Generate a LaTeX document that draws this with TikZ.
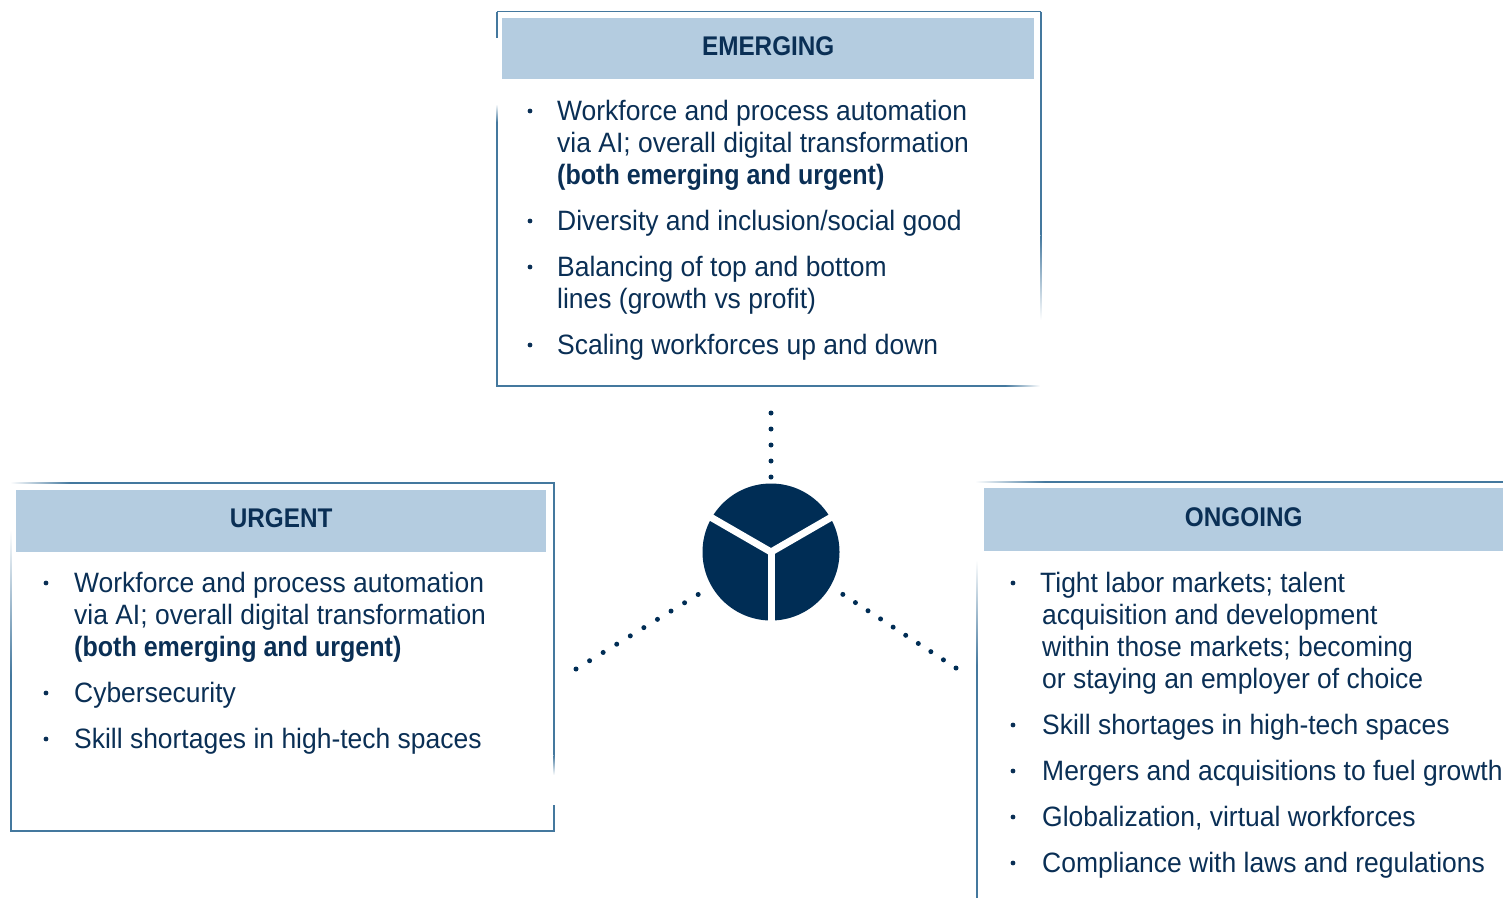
\documentclass[tikz,border=0pt]{standalone}
\usepackage{fontspec}
\setmainfont{Liberation Sans}[FakeStretch=0.945, BoldFeatures={FakeStretch=0.895}]
\newfontfamily\headfont{Liberation Sans}[FakeStretch=0.9]
\definecolor{navy}{HTML}{0A2F55}
\definecolor{hubnavy}{HTML}{002D55}
\definecolor{hdrfill}{HTML}{B4CCE0}
\definecolor{rule}{HTML}{44789E}
\tikzset{
  body/.style={anchor=base west, inner sep=0pt, text=navy, font=\fontsize{28}{32}\selectfont},
  head/.style={inner sep=0pt, text=navy, yshift=3pt, font=\headfont\bfseries\fontsize{27}{30}\selectfont},
  hdr/.style={fill=hdrfill, draw=none, inner sep=0pt, anchor=north west},
  frame/.style={draw=rule, line width=1.5pt},
  bul/.style={circle, fill=navy, inner sep=0pt, minimum size=4.8pt},
  dotline/.style={draw=hubnavy, line width=5pt, line cap=round},
  gap/.style={draw=white, line width=7pt, shorten >=-5pt},
}
\begin{document}
\begin{tikzpicture}[x=1pt, y=-1pt]
\useasboundingbox (0,0) rectangle (1503,898);

% ---------- EMERGING panel ----------
\draw[frame] (497,11.5) -- (1041,11.5);
\draw[frame] (497,11.5) -- (497,38);
\shade[top color=white, bottom color=rule] (496.25,104) rectangle (497.75,122);
\draw[frame] (497,122) -- (497,386) -- (1005,386);
\shade[left color=rule, right color=white] (1005,385.25) rectangle (1040,386.75);
\draw[frame] (1041,11.5) -- (1041,235);
\shade[top color=rule, bottom color=white] (1040.25,235) rectangle (1041.75,320);
\node[hdr, minimum width=532pt, minimum height=61pt] (ehdr) at (502,18) {};
\node[head] (etitle) at (ehdr.center) {EMERGING};

\node[bul] (eb1) at (530,111) {};
\node[body] (e1a) at (557,120) {Workforce and process automation};
\node[body] (e1b) at (557,152) {via AI; overall digital transformation};
\node[body] (e1c) at (557,184) {\bfseries (both emerging and urgent)};
\node[bul] (eb2) at (530,221) {};
\node[body] (e2a) at (557,230) {Diversity and inclusion/social good};
\node[bul] (eb3) at (530,267) {};
\node[body] (e3a) at (557,276) {Balancing of top and bottom};
\node[body] (e3b) at (557,308) {lines (growth vs profit)};
\node[bul] (eb4) at (530,345) {};
\node[body] (e4a) at (557,354) {Scaling workforces up and down};

% ---------- URGENT panel ----------
\shade[left color=white, right color=rule] (10,482.25) rectangle (70,483.75);
\draw[frame] (70,483) -- (554,483) -- (554,755);
\shade[top color=rule, bottom color=white] (553.25,755) rectangle (554.75,775);
\draw[frame] (554,805) -- (554,831) -- (11,831) -- (11,675);
\shade[top color=white, bottom color=rule] (10.25,530) rectangle (11.75,675);
\node[hdr, minimum width=530pt, minimum height=62pt] (uhdr) at (16,490) {};
\node[head] (utitle) at (uhdr.center) {URGENT};

\node[bul] (ub1) at (46,583) {};
\node[body] (u1a) at (74,592) {Workforce and process automation};
\node[body] (u1b) at (74,624) {via AI; overall digital transformation};
\node[body] (u1c) at (74,656) {\bfseries (both emerging and urgent)};
\node[bul] (ub2) at (46,693) {};
\node[body] (u2a) at (74,702) {Cybersecurity};
\node[bul] (ub3) at (46,739) {};
\node[body] (u3a) at (74,748) {Skill shortages in high-tech spaces};

% ---------- ONGOING panel ----------
\shade[left color=white, right color=rule] (975,481.25) rectangle (1045,482.75);
\draw[frame] (1045,482) -- (1503,482);
\shade[top color=white, bottom color=rule] (976.25,560) rectangle (977.75,665);
\draw[frame] (977,665) -- (977,898);
\node[hdr, minimum width=519pt, minimum height=63pt] (ohdr) at (984,488) {};
\node[head] (otitle) at (ohdr.center) {ONGOING};

\node[bul] (ob1) at (1013,583) {};
\node[body] (o1a) at (1040,592) {Tight labor markets; talent};
\node[body] (o1b) at (1042,624) {acquisition and development};
\node[body] (o1c) at (1042,656) {within those markets; becoming};
\node[body] (o1d) at (1042,688) {or staying an employer of choice};
\node[bul] (ob2) at (1013,725) {};
\node[body] (o2a) at (1042,734) {Skill shortages in high-tech spaces};
\node[bul] (ob3) at (1013,771) {};
\node[body] (o3a) at (1042,780) {Mergers and acquisitions to fuel growth};
\node[bul] (ob4) at (1013,817) {};
\node[body] (o4a) at (1042,826) {Globalization, virtual workforces};
\node[bul] (ob5) at (1013,863) {};
\node[body] (o5a) at (1042,872) {Compliance with laws and regulations};

% ---------- central hub with dotted spokes ----------
\coordinate (hubpos) at (771,552);
\coordinate (ptop) at (771,413);
\coordinate (pleft) at (576,669);
\coordinate (pright) at (956,668);
\node[circle, minimum size=137pt, inner sep=0pt] (hubshape) at (hubpos) {};
\draw[dotline, dash pattern=on 0pt off 16pt, shorten >=6pt] (ptop) -- (hubshape.north);
\draw[dotline, dash pattern=on 0pt off 15.9pt] (pleft) -- (hubshape.210);
\draw[dotline, dash pattern=on 0pt off 15pt] (pright) -- (hubshape.330);
\node[circle, fill=hubnavy, minimum size=137pt, inner sep=0pt] (hub) at (hubpos) {};
\draw[gap] (hub.center) -- (hub.south);
\draw[gap] (hub.center) -- (hub.150);
\draw[gap] (hub.center) -- (hub.30);
\fill[white] (hub.center) circle (3.5pt);
\end{tikzpicture}
\end{document}
